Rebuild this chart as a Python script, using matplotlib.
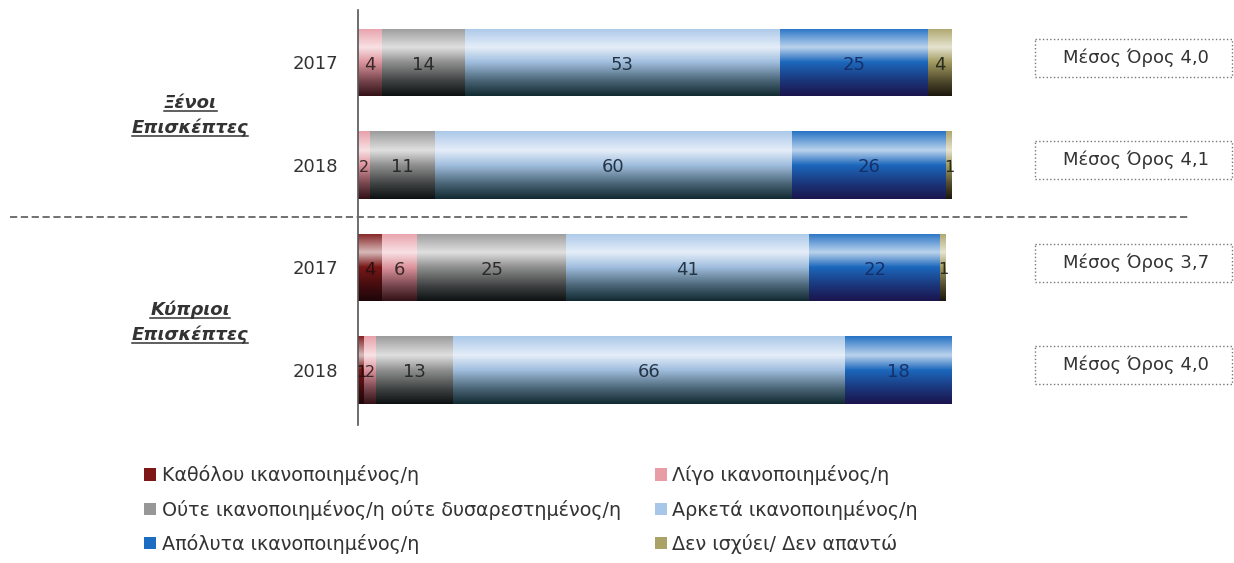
import matplotlib
matplotlib.use('Agg')
import matplotlib.pyplot as plt
import numpy as np
from matplotlib.colors import to_rgb
from matplotlib.patches import Rectangle
from matplotlib.lines import Line2D
from matplotlib.transforms import blended_transform_factory, IdentityTransform

plt.rcParams['font.family'] = ['DejaVu Sans']

# data
years = ['2017', '2018', '2017', '2018']
groups = ['Ξένοι\nΕπισκέπτες', 'Κύπριοι\nΕπισκέπτες']
categories = ['Καθόλου ικανοποιημένος/η',
              'Λίγο ικανοποιημένος/η',
              'Ούτε ικανοποιημένος/η ούτε δυσαρεστημένος/η',
              'Αρκετά ικανοποιημένος/η',
              'Απόλυτα ικανοποιημένος/η',
              'Δεν ισχύει/ Δεν απαντώ']
not_at_all = [0, 0, 4, 1]
little = [4, 2, 6, 2]
neutral = [14, 11, 25, 13]
quite = [53, 60, 41, 66]
fully = [25, 26, 22, 18]
no_answer = [4, 1, 1, 0]
means = [4.0, 4.1, 3.7, 4.0]

series = [not_at_all, little, neutral, quite, fully, no_answer]
colors = ['#7e1818', '#e79ca6', '#979797', '#a8c6e8', '#1c6cc2', '#aaa266']
dark_to = ['#1a0508', '#2a0a10', '#050a0a', '#0a2228', '#1a1048', '#151008']
label_colors = ['#2a1010', '#3a2a2a', '#2a2a2a', '#253545', '#15306a', '#2a2a20']

W, H = 1234, 563
fig = plt.figure(figsize=(W / 100, H / 100), dpi=100)
ax = fig.add_axes([358 / W, 1 - 425 / H, 594 / W, 415 / H])

ypos = np.arange(len(years))
bar_h = 0.66


def mix(c1, c2, t):
    a = np.array(to_rgb(c1)); b = np.array(to_rgb(c2))
    return a * (1 - t) + b * t


def gradient(base, dark):
    stops = [(0.0, mix(base, 'white', 0.05)),
             (0.28, mix(base, 'white', 0.7)),
             (0.5, mix(base, dark, 0.05)),
             (0.78, mix(base, dark, 0.6)),
             (1.0, mix(base, dark, 0.95))]
    t = np.linspace(0, 1, 100)
    img = np.zeros((100, 1, 3))
    for k in range(3):
        img[:, 0, k] = np.interp(t, [s[0] for s in stops], [s[1][k] for s in stops])
    return img


left = np.zeros(len(years))
handles = []
for vals, col, dk, lc, name in zip(series, colors, dark_to, label_colors, categories):
    vals = np.array(vals, dtype=float)
    bars = ax.barh(ypos, vals, left=left, height=bar_h, color=col, label=name,
                   edgecolor='none')
    handles.append(bars)
    img = gradient(col, dk)
    for p, v, l in zip(bars.patches, vals, left):
        if v <= 0:
            continue
        x0, y0, w, h = p.get_x(), p.get_y(), p.get_width(), p.get_height()
        im = ax.imshow(img, extent=(x0, x0 + w, y0 + h, y0), aspect='auto',
                       origin='upper', zorder=2)
        im.set_clip_path(p)
        fs = 13 if v >= 3 else 11.5
        ax.text(l + v / 2, p.get_y() + h / 2 + 0.02, '%d' % v, ha='center', va='center',
                fontsize=fs, color=lc, zorder=3)
    left = left + vals

ax.set_xlim(0, 100)
ax.set_ylim(3.537, -0.512)
ax.set_yticks(ypos)
ax.set_yticklabels(years, fontsize=13, color='#333333')
ax.tick_params(axis='y', length=0, pad=14)
ax.set_xticks([])
for s in ['top', 'right', 'bottom']:
    ax.spines[s].set_visible(False)
ax.spines['left'].set_color('#555555')
ax.spines['left'].set_linewidth(1.2)

# separator
fig.add_artist(Line2D([10 / W, 1190 / W], [1 - 217 / H, 1 - 217 / H], color='#666666',
                      lw=1.3, ls=(0, (4, 2))))

# group labels with underline
group_y = [[103, 128], [310, 335]]
for g, yy in zip(groups, group_y):
    for word, y in zip(g.split('\n'), yy):
        t = fig.text(190 / W, 1 - y / H, word, ha='center', va='center', fontsize=13,
                     fontweight='bold', fontstyle='italic', color='#333333')
        fig.canvas.draw()
        bb = t.get_window_extent()
        fig.add_artist(Line2D([bb.x0, bb.x1], [bb.y0 + 1, bb.y0 + 1], color='#333333',
                              lw=1.1, transform=IdentityTransform()))

# mean boxes
tr = blended_transform_factory(fig.transFigure, ax.transData)
for yv, m in zip(ypos, means):
    r = Rectangle((1035 / W, yv - 0.2 - 0.03), 197 / W, 0.37, transform=tr, fill=False,
                  edgecolor='#777777', lw=1, ls=':', clip_on=False)
    fig.add_artist(r)
    fig.text(1136 / W, 0, ('Μέσος Όρος %.1f' % m).replace('.', ','), transform=tr,
             ha='center', va='center', fontsize=13, color='#333333').set_y(yv - 0.05)

# legend
order = [0, 2, 4, 1, 3, 5]
leg = fig.legend([handles[i] for i in order], [categories[i] for i in order],
                 loc='upper left', bbox_to_anchor=(127 / W, 1 - 448 / H), ncol=2,
                 frameon=False, fontsize=13.8, handlelength=0.6, handleheight=0.6,
                 handletextpad=0.3, labelspacing=0.75, columnspacing=1.8)
for t in leg.get_texts():
    t.set_color('#333333')

fig.savefig('out.png', dpi=100)
